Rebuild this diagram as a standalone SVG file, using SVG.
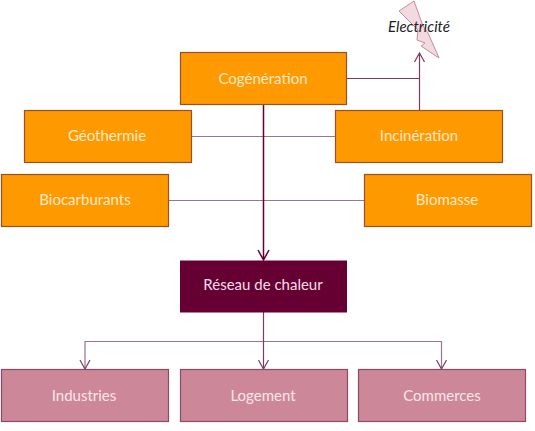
<svg xmlns="http://www.w3.org/2000/svg" width="535" height="431" viewBox="0 0 535 431">
<style>
text{font-family:Lato,"Liberation Sans",sans-serif;font-size:15px;text-anchor:middle;fill:#ffe9c8}
.o{fill:#ff9900;stroke:#9a4f24;stroke-width:1.2}
.p{fill:#cc8899;stroke:#8a4a68;stroke-width:1.2}
.c{fill:none;stroke:#7d3a60;stroke-width:1.2}
.t{fill:none;stroke:#660033;stroke-width:1.5}
.f{fill:none;stroke:#9c7492;stroke-width:1.2}
</style>
<rect width="535" height="431" fill="#fff"/>
<g id="eclair"><path d="M414 1L399 11L418 30L417 40L425 43L421 46L439 58L428 33L423 26Z" fill="#f3d9e0" stroke="#c98a9c" stroke-width="1"/></g>
<g id="connectors">
<path class="c" d="M347 78.500H419.500"/>
<path class="c" d="M419.500 110V53M414.500 62L419.500 53L424.500 62"/>
<path class="f" d="M191 136.500H336"/>
<path class="f" d="M169 200.500H365"/>
<path class="t" d="M263.500 104V260M258 250L263.500 260L269 250"/>
<path class="f" d="M85 369V341.500H441.500V369"/>
<path class="c" d="M263.500 312V369"/>
<path class="c" d="M80 360L85 369L90 360M258.500 360L263.500 369L268.500 360M436.500 360L441.500 369L446.500 360"/>
</g>
<g id="cogeneration"><rect class="o" x="180.500" y="52.500" width="166" height="52"/><text x="263" y="84">Cogénération</text></g>
<g id="geothermie"><rect class="o" x="24.500" y="110.500" width="167" height="52"/><text x="107" y="141">Géothermie</text></g>
<g id="incineration"><rect class="o" x="335.500" y="110.500" width="167" height="52"/><text x="419" y="141">Incinération</text></g>
<g id="biocarburants"><rect class="o" x="1.500" y="174.500" width="167" height="52"/><text x="85" y="205">Biocarburants</text></g>
<g id="biomasse"><rect class="o" x="364.500" y="174.500" width="167" height="52"/><text x="447" y="205">Biomasse</text></g>
<g id="reseau"><rect x="180" y="260.500" width="167" height="52" fill="#660033"/><text x="263" y="290" style="fill:#f6dfe8">Réseau de chaleur</text></g>
<g id="industries"><rect class="p" x="1.500" y="369.500" width="167" height="52"/><text x="84" y="401" style="fill:#fbe5ea">Industries</text></g>
<g id="logement"><rect class="p" x="180.500" y="369.500" width="167" height="52"/><text x="263" y="401" style="fill:#fbe5ea">Logement</text></g>
<g id="commerces"><rect class="p" x="358.500" y="369.500" width="167" height="52"/><text x="442" y="401" style="fill:#fbe5ea">Commerces</text></g>
<g id="electricite"><text x="419" y="32" style="fill:#222;font-style:italic">Electricité</text></g>
</svg>
